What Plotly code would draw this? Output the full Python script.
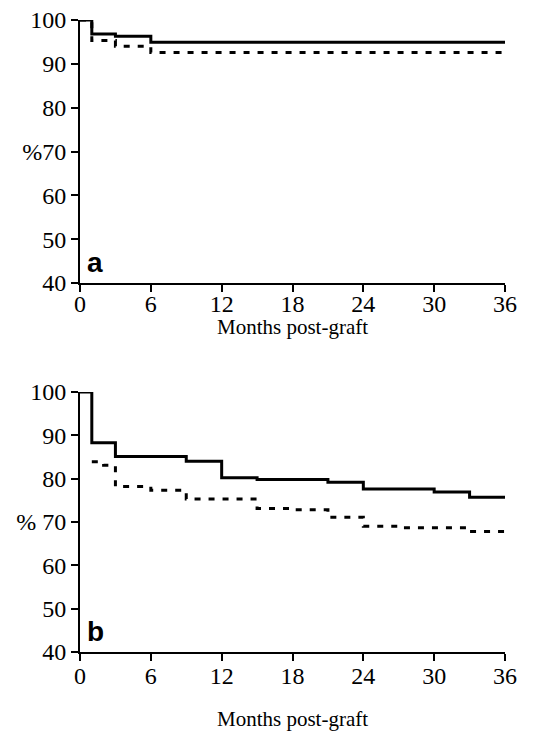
import plotly.graph_objects as go

# ---- data ----
months_ticks = [0, 6, 12, 18, 24, 30, 36]
pct_ticks = [40, 50, 60, 70, 80, 90, 100]

# panel a
a_solid_t = [0, 1, 3, 6, 36]
a_solid_v = [100, 96.8, 96.3, 94.9, 94.9]
a_dash_t = [0, 1, 3, 6, 36]
a_dash_v = [100, 95.3, 94.0, 92.6, 92.6]

# panel b
b_solid_t = [0, 1, 3, 9, 12, 15, 21, 24, 30, 33, 36]
b_solid_v = [100, 88.3, 85.1, 84.0, 80.2, 79.8, 79.2, 77.6, 76.9, 75.7, 75.7]
b_dash_t = [1, 2, 3, 6, 9, 15, 18, 21, 24, 27, 33, 36]
b_dash_v = [83.9, 83.1, 78.2, 77.3, 75.3, 73.1, 72.8, 71.1, 69.0, 68.7, 67.8, 67.8]

W, H = 553, 734
OFF = 8  # page body margin
x_left, x_right = 80 - OFF, 505 - OFF

def py(p):
    return 1 - (p - OFF) / H

panels = [
    dict(name="a", top=20, bot=283, st=a_solid_t, sv=a_solid_v, dt=a_dash_t, dv=a_dash_v,
         pct_text="%70", title_y=327, standoff=-9),
    dict(name="b", top=392, bot=652, st=b_solid_t, sv=b_solid_v, dt=b_dash_t, dv=b_dash_v,
         pct_text="% 70", title_y=719, standoff=-6),
]

fig = go.Figure()
serif = "Liberation Serif"
annotations = []
for i, p in enumerate(panels):
    xa = "x" if i == 0 else "x2"
    ya = "y" if i == 0 else "y2"
    fig.add_trace(go.Scatter(x=p["dt"], y=p["dv"], mode="lines", line_shape="hv",
                             line=dict(color="black", width=3, dash="6px,8px"),
                             xaxis=xa, yaxis=ya, cliponaxis=False, showlegend=False))
    fig.add_trace(go.Scatter(x=p["st"], y=p["sv"], mode="lines", line_shape="hv",
                             line=dict(color="black", width=3),
                             xaxis=xa, yaxis=ya, cliponaxis=False, showlegend=False))
    ax = dict(range=[0, 36], domain=[x_left / W, x_right / W], tickvals=months_ticks,
              ticktext=[str(v) for v in months_ticks],
              ticks="outside", ticklen=7, tickwidth=1.5, tickcolor="black",
              showline=True, linewidth=2, linecolor="black", showgrid=False, zeroline=False,
              tickfont=dict(family=serif, size=24, color="black"), automargin=False,
              ticklabelstandoff=p["standoff"], ticklabeloverflow="allow",
              anchor=ya)
    ay = dict(range=[40, 100], domain=[py(p["bot"]), py(p["top"])], tickvals=pct_ticks,
              ticktext=[p["pct_text"] if v == 70 else str(v) for v in pct_ticks],
              ticks="outside", ticklen=7, tickwidth=1.5, tickcolor="black",
              showline=True, linewidth=2, linecolor="black", showgrid=False, zeroline=False,
              tickfont=dict(family=serif, size=24, color="black"), automargin=False,
              ticklabeloverflow="allow",
              anchor=xa)
    if i == 0:
        fig.update_layout(xaxis=ax, yaxis=ay)
    else:
        fig.update_layout(xaxis2=ax, yaxis2=ay)
    annotations.append(dict(text="Months post-graft", x=(x_left + x_right) / 2 / W, y=py(p["title_y"]),
                            xref="paper", yref="paper", showarrow=False, yanchor="middle",
                            font=dict(family=serif, size=21, color="black")))
    annotations.append(dict(text="<b>" + p["name"] + "</b>", x=(x_left + 5) / W, y=py(p["bot"] - 3),
                            xref="paper", yref="paper", showarrow=False, xanchor="left",
                            yanchor="bottom",
                            font=dict(family="Liberation Sans", size=28, color="black")))

fig.update_layout(width=W, height=H, margin=dict(l=0, r=0, t=0, b=0),
                  paper_bgcolor="white", plot_bgcolor="white", annotations=annotations)
fig.write_html("out.html")
